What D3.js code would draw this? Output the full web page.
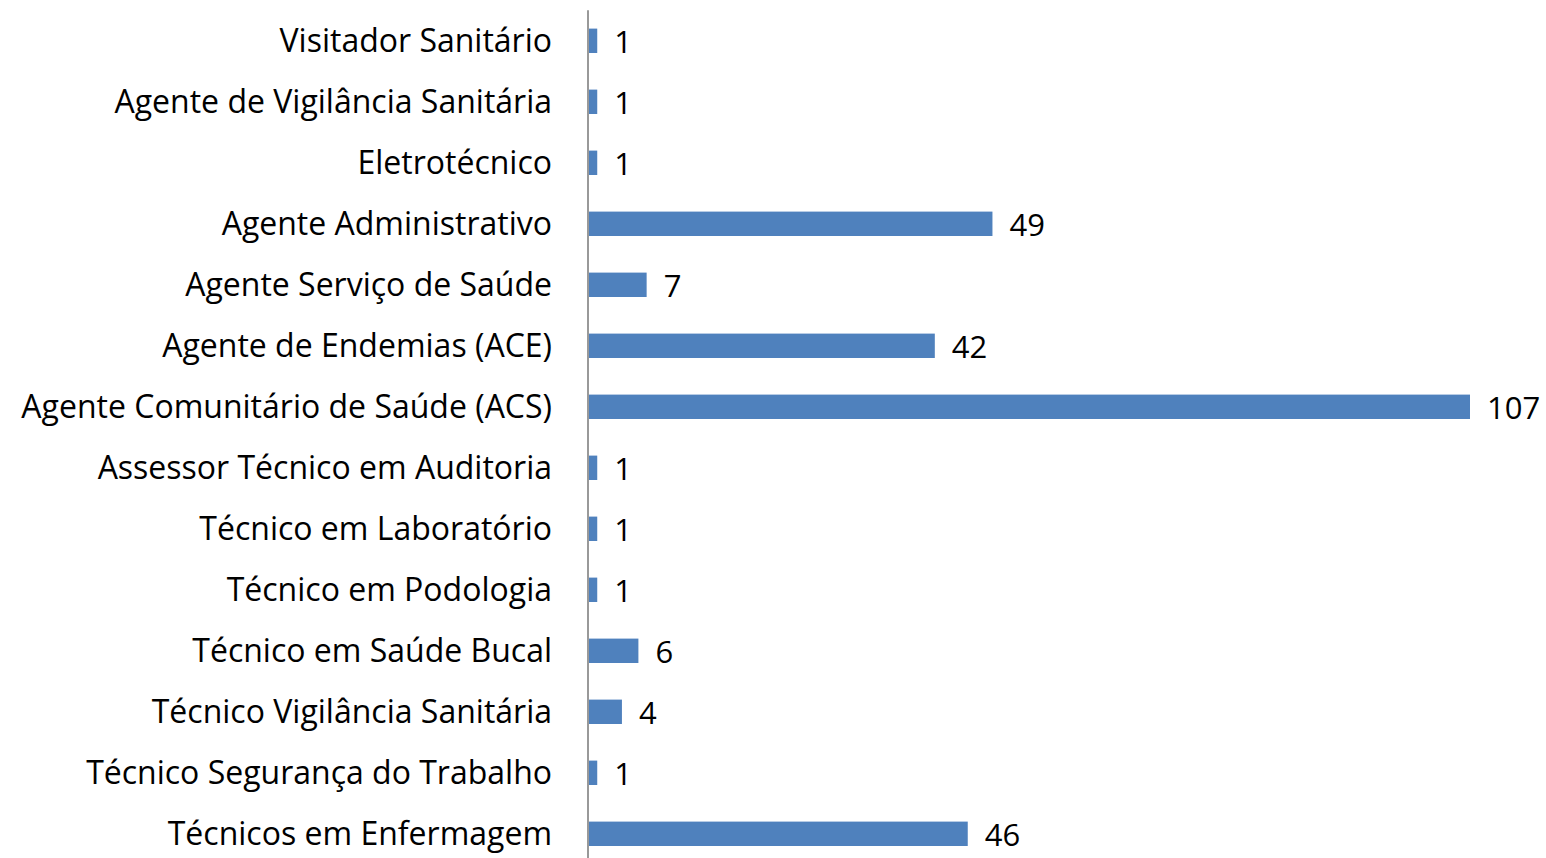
<!DOCTYPE html>
<html>
<head>
<meta charset="utf-8">
<style>
  body { margin: 0; background: #fff; }
  text { font-family: "Open Sans", sans-serif; fill: #000; }
</style>
</head>
<body>
<svg width="1546" height="858"></svg>
<script src="https://d3js.org/d3.v7.min.js"></script>
<script>
var categories = [
  "Visitador Sanitário",
  "Agente de Vigilância Sanitária",
  "Eletrotécnico",
  "Agente Administrativo",
  "Agente Serviço de Saúde",
  "Agente de Endemias (ACE)",
  "Agente Comunitário de Saúde (ACS)",
  "Assessor Técnico em Auditoria",
  "Técnico em Laboratório",
  "Técnico em Podologia",
  "Técnico em Saúde Bucal",
  "Técnico Vigilância Sanitária",
  "Técnico Segurança do Trabalho",
  "Técnicos em Enfermagem"
];
var values = [1, 1, 1, 49, 7, 42, 107, 1, 1, 1, 6, 4, 1, 46];

var svg = d3.select("svg");
var plotLeft = 589, plotRight = 1470, plotTop = 10.3, plotBottom = 864.3;

var x = d3.scaleLinear().domain([0, 107]).range([plotLeft, plotRight]);
var y = d3.scaleBand().domain(categories).range([plotTop, plotBottom]).paddingInner(0.6).paddingOuter(0.3);

var data = categories.map(function(c, i) { return { name: c, value: values[i] }; });

svg.selectAll("rect.bar")
  .data(data)
  .enter().append("rect")
    .attr("class", "bar")
    .attr("x", x(0))
    .attr("y", function(d) { return y(d.name); })
    .attr("width", function(d) { return x(d.value) - x(0); })
    .attr("height", y.bandwidth())
    .attr("fill", "#4f81bd");

// axis line
svg.append("line")
  .attr("x1", plotLeft - 1).attr("x2", plotLeft - 1)
  .attr("y1", plotTop).attr("y2", 858)
  .attr("stroke", "#999").attr("stroke-width", 2);

svg.selectAll("text.cat")
  .data(data)
  .enter().append("text")
    .attr("class", "cat")
    .attr("x", 552)
    .attr("y", function(d) { return y(d.name) + y.bandwidth() / 2; })
    .attr("dy", "0.35em")
    .attr("text-anchor", "end")
    .style("font-size", "32px")
    .text(function(d) { return d.name; });

svg.selectAll("text.val")
  .data(data)
  .enter().append("text")
    .attr("class", "val")
    .attr("x", function(d) { return x(d.value) + 17; })
    .attr("y", function(d) { return y(d.name) + y.bandwidth() / 2; })
    .attr("dy", "0.4em")
    .style("font-size", "31px")
    .text(function(d) { return d.value; });
</script>
</body>
</html>
